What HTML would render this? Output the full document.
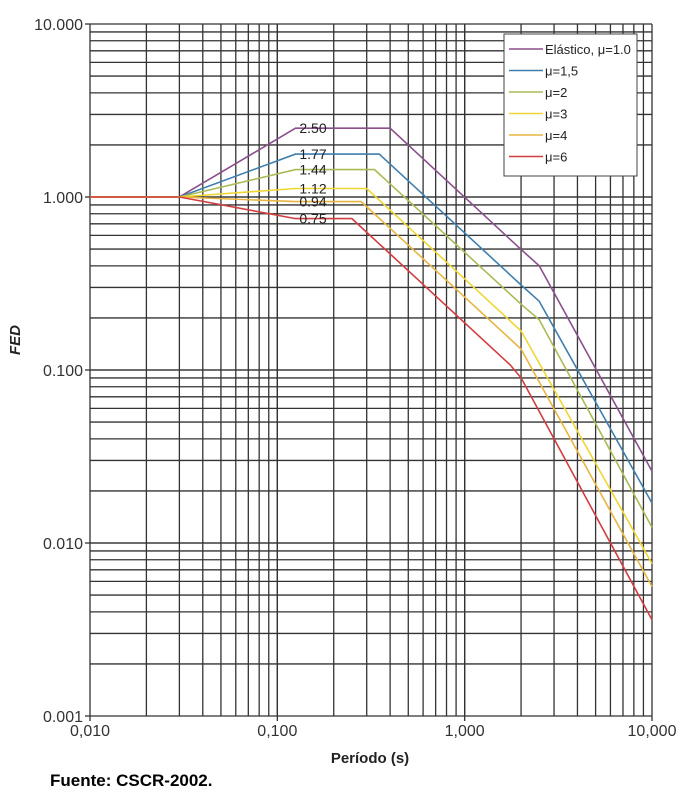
<!DOCTYPE html>
<html><head><meta charset="utf-8"><style>
body{margin:0;background:#fff;}
svg text{font-family:"Liberation Sans",sans-serif;}
</style></head><body>
<svg id="chart" width="698" height="799" xmlns="http://www.w3.org/2000/svg">
<g id="grid"></g>
<g id="series"></g>
<g id="labels"></g>
<text x="0" y="0" transform="translate(20,340) rotate(-90)" text-anchor="middle" font-size="15" font-weight="bold" font-style="italic" fill="#222">FED</text>
<text x="370" y="763" text-anchor="middle" font-size="15" font-weight="bold" fill="#222">Período (s)</text>
<text x="50" y="786" font-size="17" font-weight="bold" fill="#000">Fuente: CSCR-2002.</text>
<g>
<rect x="504" y="34" width="133" height="142" fill="#fff" stroke="#444" stroke-width="1"/>
<g id="legend-items"></g>
</g>
</svg>
<script>
const tickValsX=[0.01,0.1,1,10];
const tickLabelsX=["0,010","0,100","1,000","10,000"];
const tickValsY=[10,1,0.1,0.01,0.001];
const tickLabelsY=["10.000","1.000","0.100","0.010","0.001"];
const seriesNames=["Elástico, μ=1.0","μ=1,5","μ=2","μ=3","μ=4","μ=6"];
const T_el=[0.01,0.03,0.125,0.4,1.95,2.5,10];
const V_el=[1,1,2.5,2.5,0.51,0.40,0.026];
const T_15=[0.01,0.03,0.125,0.35,2.0,2.5,10];
const V_15=[1,1,1.77,1.77,0.31,0.25,0.017];
const T_2=[0.01,0.03,0.125,0.33,2.0,2.5,10];
const V_2=[1,1,1.44,1.44,0.24,0.195,0.0123];
const T_3=[0.01,0.03,0.125,0.30,2.0,10];
const V_3=[1,1,1.12,1.12,0.168,0.0076];
const T_4=[0.01,0.03,0.125,0.28,2.0,10];
const V_4=[1,1,0.94,0.94,0.132,0.0056];
const T_6=[0.01,0.03,0.125,0.25,1.75,2.0,10];
const V_6=[1,1,0.75,0.75,0.107,0.09,0.0036];
const plateauLabels=["2.50","1.77","1.44","1.12","0.94","0.75"];
const plateauVals=[2.5,1.77,1.44,1.12,0.94,0.75];

const X0=90,X1=652,Y0=24,Y1=716;
const xs=t=>X0+(Math.log10(t)+2)/3*(X1-X0);
const ys=v=>Y0+(1-Math.log10(v))/4*(Y1-Y0);
const NS="http://www.w3.org/2000/svg";
const mk=(tag,attrs,parent)=>{const e=document.createElementNS(NS,tag);for(const k in attrs)e.setAttribute(k,attrs[k]);parent.appendChild(e);return e;};
const grid=document.getElementById('grid');
for(let d=-2;d<1;d++)for(let m=1;m<=10;m++){
  const x=xs(m*Math.pow(10,d));
  const l=mk('line',{x1:x,x2:x,y1:Y0,y2:Y1,stroke:'#333','stroke-width':1.3},grid);
  
  
}
for(let d=-3;d<1;d++)for(let m=1;m<=10;m++){
  const y=ys(m*Math.pow(10,d));
  const l=mk('line',{x1:X0,x2:X1,y1:y,y2:y,stroke:'#333','stroke-width':1.3},grid);
  
  
}
const lab=document.getElementById('labels');
tickValsX.forEach((v,i)=>{
  const t=mk('text',{x:xs(v),y:736,'text-anchor':'middle','font-size':16,fill:'#333'},lab);
  t.textContent=tickLabelsX[i];
  
  
  const tk=mk('line',{x1:xs(v),x2:xs(v),y1:Y1,y2:Y1+5,stroke:'#333','stroke-width':1.3},lab);
  
  
});
tickValsY.forEach((v,i)=>{
  const t=mk('text',{x:83,y:ys(v)+6,'text-anchor':'end','font-size':16,fill:'#333'},lab);
  t.textContent=tickLabelsY[i];
  
  
  const tk=mk('line',{x1:X0-5,x2:X0,y1:ys(v),y2:ys(v),stroke:'#333','stroke-width':1.3},lab);
  
  
});
const colors=['#8a4f8c','#3f7fae','#a9bb55','#f0d632','#e9b542','#d23d40'];
const sets=[[T_el,V_el],[T_15,V_15],[T_2,V_2],[T_3,V_3],[T_4,V_4],[T_6,V_6]];
const sg=document.getElementById('series');
sets.forEach((s,i)=>{
  const pts=s[0].map((t,j)=>xs(t).toFixed(1)+','+ys(s[1][j]).toFixed(1)).join(' ');
  const p=mk('polyline',{points:pts,fill:'none',stroke:colors[i],'stroke-width':1.6},sg);
  
  
});
plateauVals.forEach((v,i)=>{
  const t=mk('text',{x:313,y:ys(v)+5,'text-anchor':'middle','font-size':14,fill:'#222'},sg);
  t.textContent=plateauLabels[i];
  
  
});
const li=document.getElementById('legend-items');
seriesNames.forEach((n,i)=>{
  const y=49+i*21.5;
  const l=mk('line',{x1:509,x2:543,y1:y,y2:y,stroke:colors[i],'stroke-width':1.6},li);
  
  
  const t=mk('text',{x:545,y:y+5,'font-size':13,fill:'#222'},li);
  t.textContent=n;
  
  
});
</script>
</body></html>
